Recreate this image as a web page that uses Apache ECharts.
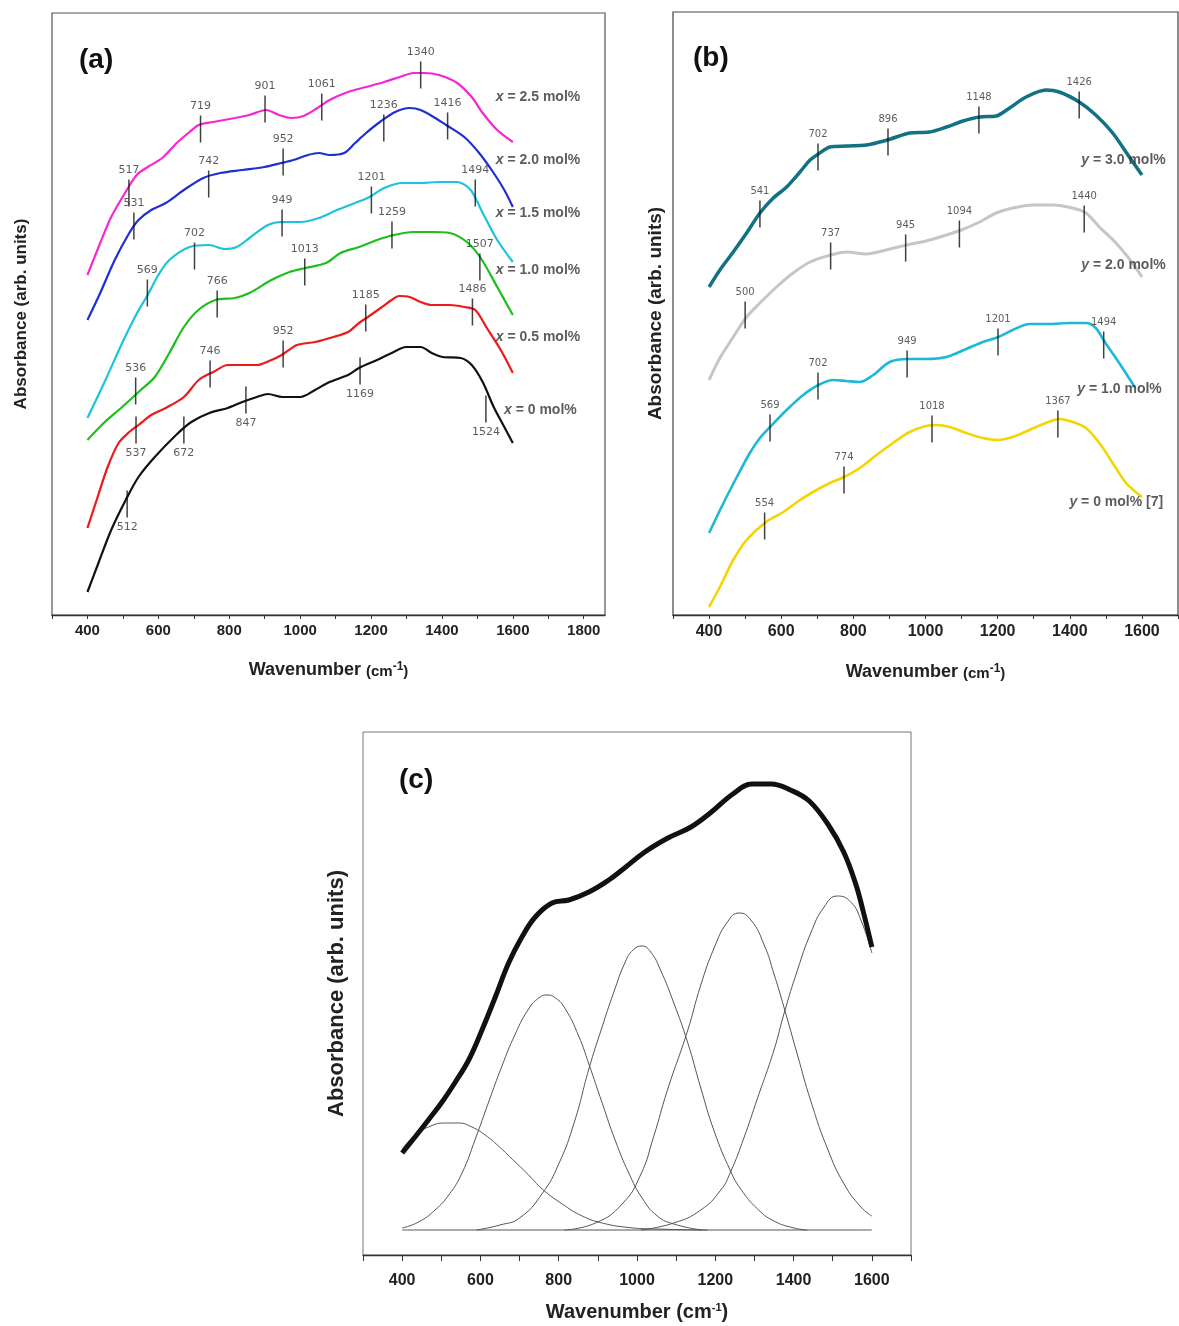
<!DOCTYPE html>
<html>
<head>
<meta charset="utf-8">
<script src="https://cdn.jsdelivr.net/npm/echarts@6/dist/echarts.min.js"></script>
<style>
  html, body { margin: 0; padding: 0; background: #fff; }
  #chart { width: 1179px; height: 1326px; }
</style>
</head>
<body>
<div id="chart"></div>
<script>
// ---- panel (a): x = mol% series, [wavenumber, absorbance (arb.)] ----
const a25 = [[400,340],[436,372],[467,398],[511,425],[539,440],[570,448],[611,457],[652,472],[688,483],[714,490],[755,493],[816,497],[857,500],[904,505],[940,500],[975,497],[1010,499],[1049,507],[1083,515],[1135,523],[1186,528],[1237,533],[1289,539],[1320,542],[1350,542],[1392,540],[1443,532],[1484,518],[1515,502],[1556,485],[1600,473]]
const a20 = [[400,295],[436,322],[477,355],[518,382],[544,395],[580,405],[621,412],[672,425],[727,437],[775,442],[837,445],[899,448],[948,452],[981,455],[1022,460],[1053,462],[1083,460],[1124,462],[1155,472],[1186,482],[1225,493],[1268,503],[1309,507],[1340,505],[1381,497],[1412,490],[1463,478],[1505,462],[1546,442],[1576,425],[1600,408]]
const a15 = [[400,197],[447,232],[498,272],[540,302],[570,320],[600,340],[631,355],[688,368],[744,370],[786,366],[821,368],[857,377],[909,390],[948,393],[1001,393],[1053,397],[1104,405],[1155,412],[1196,418],[1237,427],[1289,432],[1340,432],[1392,433],[1443,433],[1481,425],[1515,402],[1556,375],[1600,353]]
const a10 = [[400,175],[446,192],[498,208],[544,223],[590,238],[631,262],[672,288],[713,305],[761,315],[816,317],[857,322],[919,335],[970,343],[1015,347],[1073,352],[1114,362],[1166,368],[1217,375],[1264,380],[1320,383],[1371,383],[1422,382],[1474,372],[1513,355],[1556,328],[1600,300]]
const a05 = [[400,87],[426,115],[457,148],[488,172],[518,183],[544,190],[580,200],[621,207],[672,218],[714,235],[755,243],[796,250],[837,250],[878,250],[919,255],[948,260],[991,270],[1042,273],[1094,278],[1135,283],[1166,292],[1191,298],[1227,307],[1258,315],[1279,319],[1309,318],[1340,313],[1371,310],[1422,310],[1463,308],[1494,305],[1525,288],[1566,265],[1600,242]]
const a00 = [[400,23],[431,52],[467,85],[508,115],[544,138],[590,158],[650,180],[693,193],[744,202],[796,207],[837,213],[878,218],[909,221],[950,218],[1001,218],[1042,225],[1083,233],[1135,240],[1166,247],[1217,255],[1258,262],[1299,268],[1340,268],[1371,262],[1402,258],[1453,257],[1484,250],[1515,233],[1546,208],[1576,188],[1600,172]]

// band positions marked on each curve: [wavenumber, level]
const pkA25 = [[517,422],[719,486],[901,506],[1061,508],[1340,540]]
const pkA20 = [[531,389],[742,431],[952,453],[1236,487],[1416,489]]
const pkA15 = [[569,322],[702,359],[949,392],[1201,415],[1494,422]]
const pkA10 = [[536,224],[766,311],[1013,343],[1259,380],[1507,348]]
const pkA05 = [[537,185],[746,241],[952,261],[1185,297],[1486,303]]
const pkA00 = [[512,111],[672,185],[847,215],[1169,244],[1524,206]]
const belowA = [537, 512, 672, 847, 1169, 1524]

const tagTextA = ['2.5 mol%', '2.0 mol%', '1.5 mol%', '1.0 mol%', '0.5 mol%', '0 mol%']
const tagAtA = [[1552,518],[1552,455],[1552,402],[1552,345],[1552,278],[1575,205]]

// ---- panel (b): y = mol% series ----
const b30 = [[400,328],[430,345],[467,363],[504,382],[541,402],[578,417],[615,428],[652,443],[680,455],[703,461],[735,468],[781,469],[836,470],[873,473],[903,476],[956,482],[1011,483],[1058,488],[1104,494],[1150,498],[1196,499],[1233,507],[1279,518],[1334,525],[1371,523],[1426,513],[1472,500],[1519,482],[1565,458],[1600,440]]
const b20 = [[400,235],[430,257],[467,278],[504,298],[541,312],[587,328],[633,342],[680,353],[737,360],[781,363],[836,361],[891,365],[947,370],[1002,374],[1058,380],[1099,385],[1150,393],[1196,402],[1242,407],[1297,410],[1353,410],[1408,407],[1445,402],[1482,388],[1528,372],[1574,352],[1600,338]]
const b10 = [[400,82],[440,112],[477,138],[513,162],[541,177],[569,188],[615,205],[661,220],[703,230],[744,235],[781,234],[818,233],[855,240],[901,253],[951,256],[1002,256],[1058,258],[1113,266],[1159,273],[1202,278],[1242,285],[1288,291],[1343,291],[1399,292],[1445,292],[1472,287],[1497,273],[1537,252],[1580,228]]
const b00 = [[400,8],[430,28],[467,55],[504,75],[558,93],[606,103],[652,115],[698,125],[735,132],[774,138],[818,147],[864,160],[910,172],[956,183],[1002,189],[1030,190],[1067,188],[1113,182],[1159,177],[1200,175],[1242,178],[1288,185],[1334,192],[1371,196],[1408,193],[1445,187],[1482,172],[1519,152],[1556,132],[1600,118]]

const pkB30 = [[541,401],[702,458],[896,473],[1148,495],[1426,510]]
const pkB20 = [[500,300],[737,359],[945,367],[1094,381],[1440,396]]
const pkB10 = [[569,187],[702,229],[949,251],[1201,273],[1494,270]]
const pkB00 = [[554,89],[774,135],[1018,186],[1367,191]]

const tagTextB = ['3.0 mol%', '2.0 mol%', '1.0 mol%', '0 mol% [7]']
const tagAtB = [[1432,455],[1432,350],[1421,226],[1399,113]]

// ---- panel (c): measured spectrum + gaussian components ----
const cTotal = [[400,102],[433,118],[467,135],[502,153],[536,173],[570,195],[604,225],[638,258],[672,292],[706,318],[740,338],[783,352],[826,355],[877,363],[928,375],[965,386],[1020,403],[1079,417],[1138,428],[1187,442],[1245,461],[1294,471],[1343,471],[1392,465],[1440,454],[1489,430],[1528,403],[1558,372],[1577,345],[1600,308]]
const cBase = [[400,25],[1600,25]]
const cG1 = [[400,106],[433,120],[467,128],[510,132],[544,132],[578,128],[612,120],[646,109],[681,96],[723,80],[758,66],[809,51],[860,39],[911,32],[979,27.5],[1047,26],[1180,25]]
const cG2 = [[400,27],[442,33],[484,45],[519,60],[553,82],[587,116],[621,153],[655,189],[689,221],[723,246],[749,257],[770,260],[792,257],[817,246],[851,219],[877,191],[911,152],[945,114],[979,82],[1013,57],[1052,39],[1094,31],[1165,25]]
const cG3 = [[590,25],[650,30],[700,37],[757,61],[800,91],[840,133],[877,186],[910,227],[940,262],[970,293],[990,305],[1013,309],[1035,303],[1060,285],[1094,252],[1129,213],[1163,167],[1197,124],[1239,84],[1265,66],[1308,46],[1350,34],[1401,27],[1435,25]]
const cG4 = [[815,25],[894,32],[962,51],[1009,80],[1043,119],[1077,164],[1129,224],[1163,270],[1197,307],[1231,333],[1261,342],[1291,335],[1325,310],[1350,281],[1376,247],[1410,200],[1444,154],[1487,106],[1529,71],[1572,48],[1600,39]]
const cG5 = [[1010,25],[1094,32],[1163,45],[1214,65],[1239,83],[1273,117],[1308,157],[1350,205],[1376,242],[1410,285],[1444,322],[1478,348],[1512,359],[1546,353],[1572,335],[1600,302]]

// axis ticks / labels
const ticksA = [300,400,500,600,700,800,900,1000,1100,1200,1300,1400,1500,1600,1700,1800]
const labelsA = [400,600,800,1000,1200,1400,1600,1800]
const ticksBC = [300,400,500,600,700,800,900,1000,1100,1200,1300,1400,1500,1600,1700]
const labelsBC = [400,600,800,1000,1200,1400,1600]

const FONT = '"Liberation Sans", Arial, Helvetica, sans-serif'

function curve (data, color, width, gi, smooth) {
  return {
    type: 'line', data: data, xAxisIndex: gi, yAxisIndex: gi,
    smooth: smooth || 0.3, symbol: 'none', silent: true, z: 2,
    lineStyle: { color: color, width: width }
  }
}

function bands (data, gi, below, fontSize) {
  return {
    type: 'scatter', xAxisIndex: gi, yAxisIndex: gi, z: 5, silent: true,
    symbol: 'rect', symbolSize: [1.5, 27],
    itemStyle: { color: '#111' },
    data: data.map(function (d) {
      return { value: d, label: { position: below.indexOf(d[0]) >= 0 ? 'bottom' : 'top' } }
    }),
    label: {
      show: true, distance: 4, color: '#333', fontSize: fontSize, fontFamily: '"DejaVu Sans", sans-serif',
      formatter: function (p) { return String(p.value[0]) }
    }
  }
}

function tags (at, texts, letter, gi) {
  return {
    type: 'scatter', xAxisIndex: gi, yAxisIndex: gi, z: 6, silent: true,
    symbolSize: 0,
    data: at.map(function (p, i) {
      return { value: p, label: { formatter: '{i|' + letter + '} = ' + texts[i] } }
    }),
    label: {
      show: true, position: 'right', distance: 0,
      fontSize: 14, fontWeight: 'bold', color: '#333', fontFamily: FONT,
      rich: { i: { fontSize: 14, fontWeight: 'bold', fontStyle: 'italic', color: '#333', fontFamily: FONT } }
    }
  }
}

function xAx (gi, max, ticks, labels, opts) {
  return {
    gridIndex: gi, type: 'value', min: 300, max: max,
    axisLine: { onZero: false, lineStyle: { color: '#333', width: 1.3 } },
    axisTick: { customValues: ticks, length: opts.tickLen, lineStyle: { color: '#333' } },
    axisLabel: {
      customValues: labels, fontSize: opts.labelSize, fontWeight: 'bold', color: '#222', fontFamily: FONT, margin: opts.margin,
      formatter: function (v) { return String(v) }
    },
    splitLine: { show: false },
    name: opts.name, nameLocation: 'middle', nameGap: opts.nameGap,
    nameTextStyle: {
      fontSize: opts.nameSize, fontWeight: 'bold', color: '#222', fontFamily: FONT,
      rich: {
        p: { fontSize: opts.pSize, fontWeight: 'bold', color: '#222', fontFamily: FONT, verticalAlign: 'bottom' },
        sup: { fontSize: opts.supSize, fontWeight: 'bold', color: '#222', fontFamily: FONT, verticalAlign: 'top' }
      }
    }
  }
}

function yAx (gi, max, nameGap, nameSize) {
  return {
    gridIndex: gi, type: 'value', min: 0, max: max,
    axisLine: { show: false }, axisTick: { show: false }, axisLabel: { show: false },
    splitLine: { show: false },
    name: 'Absorbance (arb. units)', nameLocation: 'middle', nameGap: nameGap,
    nameTextStyle: { fontSize: nameSize, fontWeight: 'bold', color: '#222', fontFamily: FONT }
  }
}

const titleStyle = { fontSize: 28, fontWeight: 'bold', color: '#111', fontFamily: FONT }

const option = {
  animation: false,
  backgroundColor: '#fff',
  title: [
    { text: '(a)', left: 79, top: 46, padding: 0, textStyle: titleStyle },
    { text: '(b)', left: 693, top: 44, padding: 0, textStyle: titleStyle },
    { text: '(c)', left: 399, top: 766, padding: 0, textStyle: titleStyle }
  ],
  grid: [
    { left: 52, top: 13, width: 553, height: 602, show: true, borderColor: '#555', borderWidth: 1.2, outerBoundsMode: 'none', containLabel: false },
    { left: 673, top: 12, width: 505, height: 603, show: true, borderColor: '#444', borderWidth: 1.2, outerBoundsMode: 'none', containLabel: false },
    { left: 363, top: 732, width: 548, height: 523, show: true, borderColor: '#777', borderWidth: 1, outerBoundsMode: 'none', containLabel: false }
  ],
  xAxis: [
    xAx(0, 1860, ticksA, labelsA, { tickLen: 4, labelSize: 15, margin: 8, name: 'Wavenumber {p|(cm}{sup|-1}{p|)}', nameGap: 46, nameSize: 18, pSize: 15, supSize: 12 }),
    xAx(1, 1700, ticksBC, labelsBC, { tickLen: 4, labelSize: 16, margin: 9, name: 'Wavenumber {p|(cm}{sup|-1}{p|)}', nameGap: 48, nameSize: 18, pSize: 15, supSize: 12 }),
    xAx(2, 1700, ticksBC, labelsBC, { tickLen: 6, labelSize: 16, margin: 18, name: 'Wavenumber (cm{sup|-1})', nameGap: 47, nameSize: 20, pSize: 20, supSize: 11 })
  ],
  yAxis: [
    yAx(0, 602, 22, 17),
    yAx(1, 603, 8, 19),
    yAx(2, 523, 15, 22)
  ],
  series: [
    curve(a25, '#f527d2', 2.2, 0),
    curve(a20, '#1f2fd4', 2.2, 0),
    curve(a15, '#1cc3dd', 2.2, 0),
    curve(a10, '#1dbf1d', 2.2, 0),
    curve(a05, '#ee1a1a', 2.2, 0),
    curve(a00, '#111111', 2.2, 0),
    bands(pkA25, 0, belowA, 11),
    bands(pkA20, 0, belowA, 11),
    bands(pkA15, 0, belowA, 11),
    bands(pkA10, 0, belowA, 11),
    bands(pkA05, 0, belowA, 11),
    bands(pkA00, 0, belowA, 11),
    tags(tagAtA, tagTextA, 'x', 0),

    curve(b30, '#107282', 3.5, 1),
    curve(b20, '#c6c6c6', 3, 1),
    curve(b10, '#1bb9d6', 2.6, 1),
    curve(b00, '#f5d400', 2.6, 1),
    bands(pkB30, 1, [], 10),
    bands(pkB20, 1, [], 10),
    bands(pkB10, 1, [], 10),
    bands(pkB00, 1, [], 10),
    tags(tagAtB, tagTextB, 'y', 1),

    curve(cBase, '#555', 1, 2),
    curve(cG1, '#555', 1, 2, 0.5),
    curve(cG2, '#555', 1, 2, 0.5),
    curve(cG3, '#555', 1, 2, 0.5),
    curve(cG4, '#555', 1, 2, 0.5),
    curve(cG5, '#555', 1, 2, 0.5),
    curve(cTotal, '#111', 5, 2, 0.4)
  ]
}

const chart = echarts.init(document.getElementById('chart'))
chart.setOption(option)
</script>
</body>
</html>
